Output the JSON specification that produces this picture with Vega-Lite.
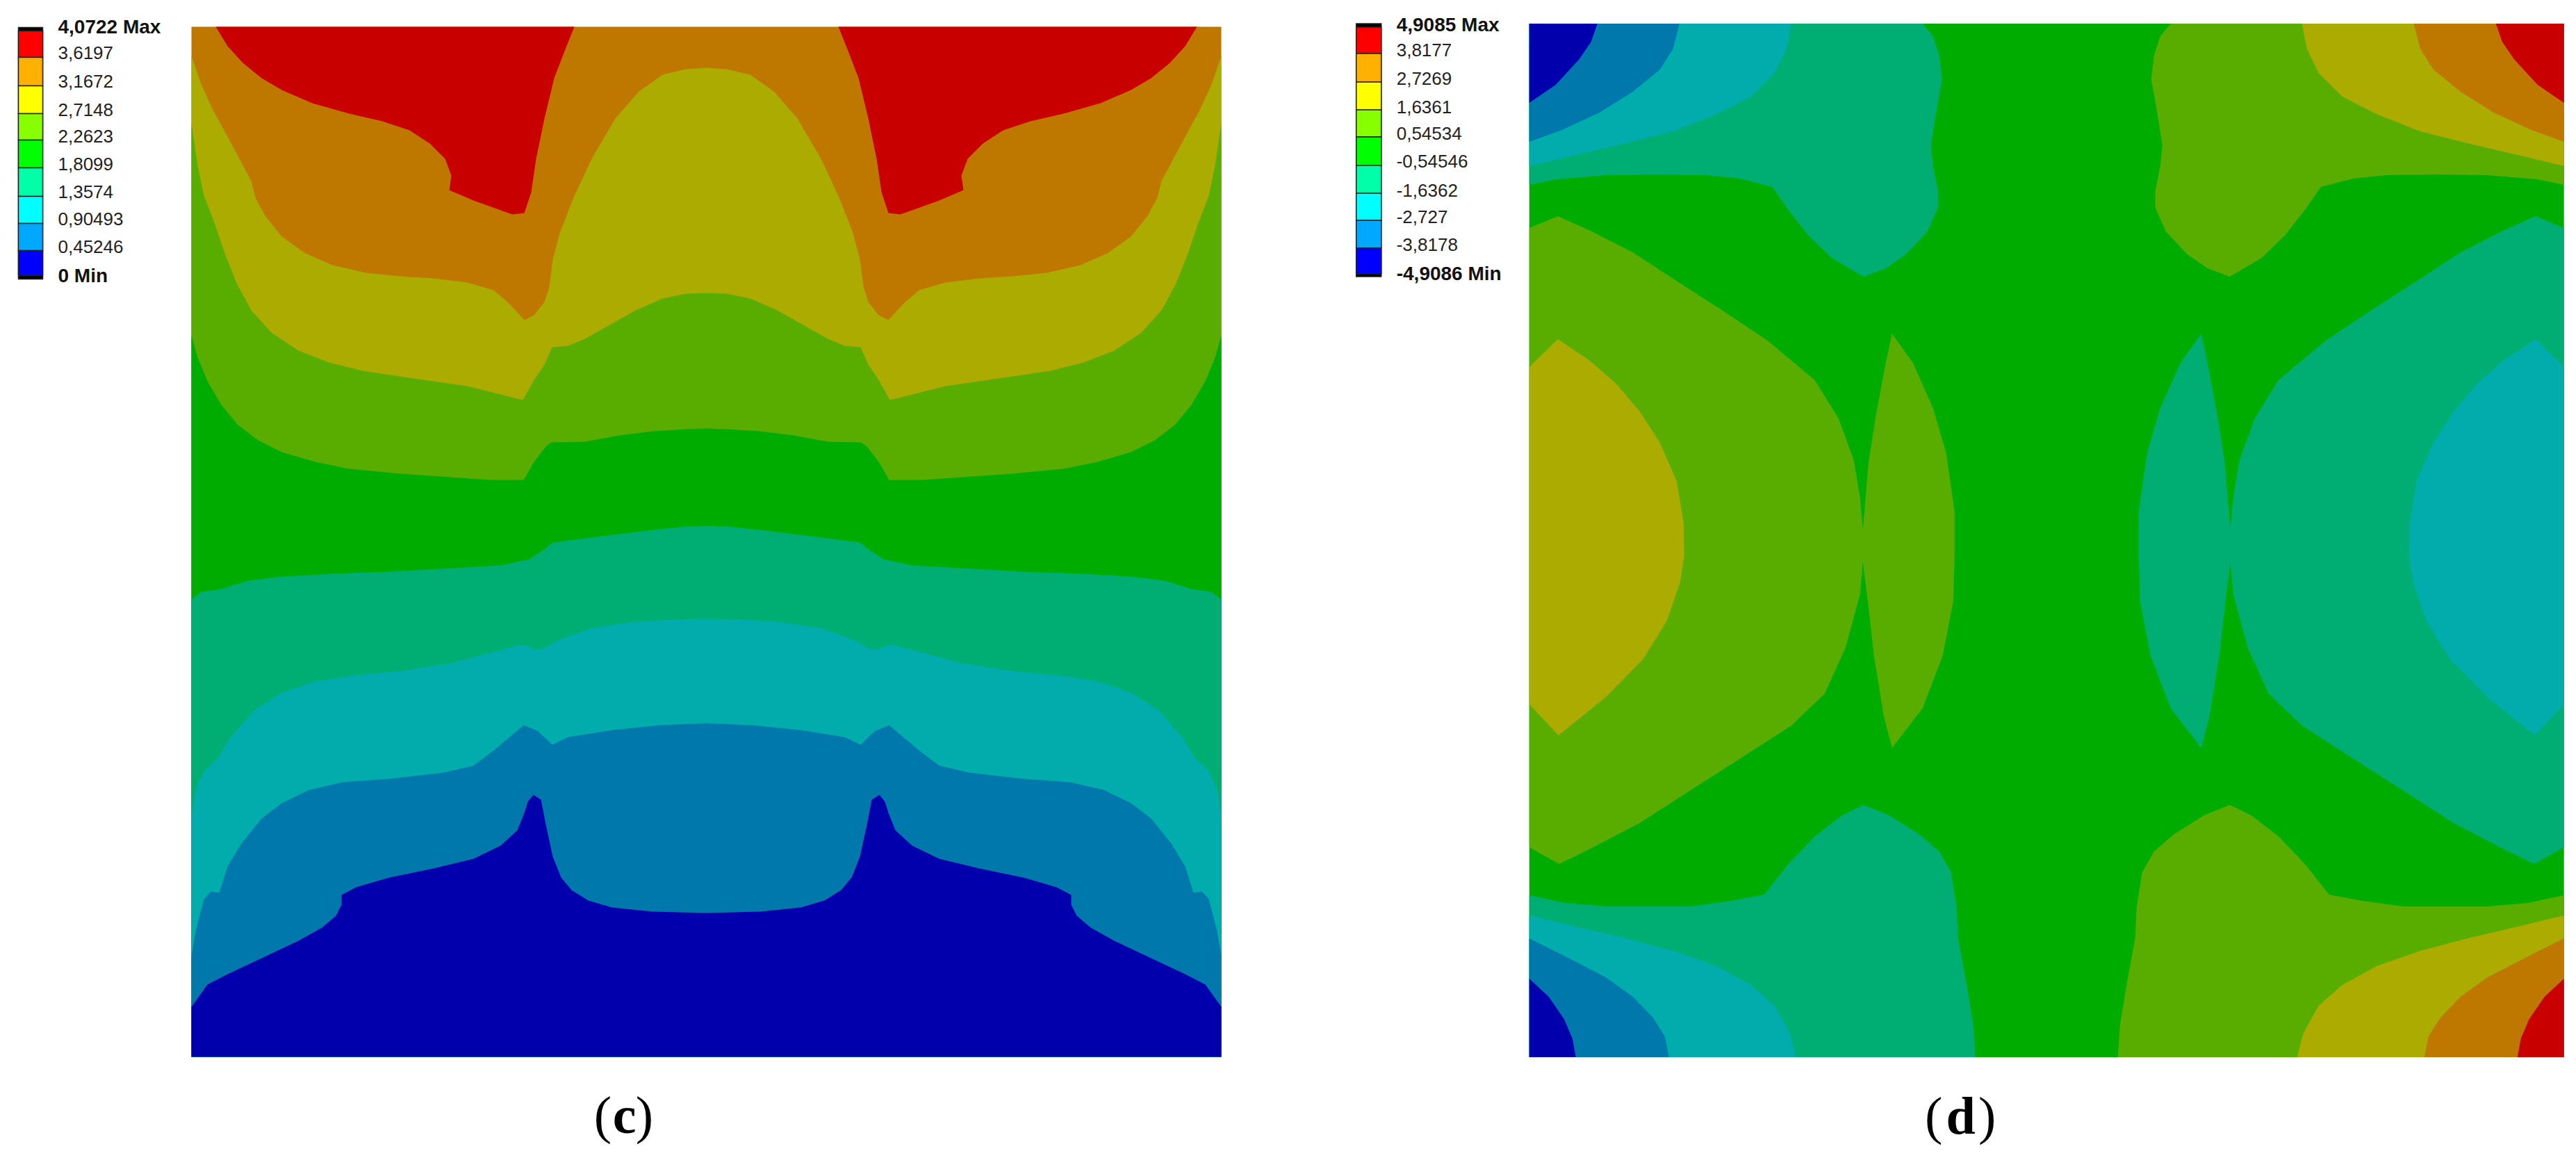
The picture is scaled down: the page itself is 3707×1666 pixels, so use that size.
{"$schema":"https://vega.github.io/schema/vega-lite/v6.json","padding":0,"spacing":0,"background":"white","config":{"view":{"stroke":null},"font":"Liberation Sans"},
"datasets":{
"c":[
{"s":"Bg","x":0,"y":0},{"s":"Bg","x":1482,"y":0},{"s":"Bg","x":1482,"y":1482},{"s":"Bg","x":0,"y":1482},
{"s":"R1","x":35,"y":0},{"s":"R1","x":52,"y":28},{"s":"R1","x":74,"y":52},{"s":"R1","x":101,"y":74},{"s":"R1","x":130,"y":91},{"s":"R1","x":174,"y":110},{"s":"R1","x":227,"y":125},{"s":"R1","x":275,"y":136},{"s":"R1","x":314,"y":149},{"s":"R1","x":343,"y":168},{"s":"R1","x":365,"y":190},{"s":"R1","x":374,"y":214},{"s":"R1","x":371,"y":235},{"s":"R1","x":406,"y":250},{"s":"R1","x":445,"y":264},{"s":"R1","x":462,"y":270},{"s":"R1","x":479,"y":268},{"s":"R1","x":489,"y":238},{"s":"R1","x":496,"y":190},{"s":"R1","x":508,"y":132},{"s":"R1","x":522,"y":74},{"s":"R1","x":537,"y":35},{"s":"R1","x":551,"y":0},
{"s":"R2","x":1447,"y":0},{"s":"R2","x":1430,"y":28},{"s":"R2","x":1408,"y":52},{"s":"R2","x":1381,"y":74},{"s":"R2","x":1352,"y":91},{"s":"R2","x":1308,"y":110},{"s":"R2","x":1255,"y":125},{"s":"R2","x":1207,"y":136},{"s":"R2","x":1168,"y":149},{"s":"R2","x":1139,"y":168},{"s":"R2","x":1117,"y":190},{"s":"R2","x":1108,"y":214},{"s":"R2","x":1111,"y":235},{"s":"R2","x":1076,"y":250},{"s":"R2","x":1037,"y":264},{"s":"R2","x":1020,"y":270},{"s":"R2","x":1003,"y":268},{"s":"R2","x":993,"y":238},{"s":"R2","x":986,"y":190},{"s":"R2","x":974,"y":132},{"s":"R2","x":960,"y":74},{"s":"R2","x":945,"y":35},{"s":"R2","x":931,"y":0},
{"s":"A","x":0,"y":42},{"s":"A","x":14,"y":83},{"s":"A","x":31,"y":120},{"s":"A","x":48,"y":151},{"s":"A","x":69,"y":190},{"s":"A","x":86,"y":222},{"s":"A","x":92,"y":246},{"s":"A","x":106,"y":272},{"s":"A","x":130,"y":302},{"s":"A","x":164,"y":326},{"s":"A","x":203,"y":343},{"s":"A","x":251,"y":354},{"s":"A","x":300,"y":359},{"s":"A","x":348,"y":362},{"s":"A","x":397,"y":368},{"s":"A","x":435,"y":379},{"s":"A","x":457,"y":398},{"s":"A","x":479,"y":422},{"s":"A","x":493,"y":415},{"s":"A","x":508,"y":396},{"s":"A","x":515,"y":374},{"s":"A","x":520,"y":335},{"s":"A","x":530,"y":297},{"s":"A","x":549,"y":248},{"s":"A","x":576,"y":190},{"s":"A","x":610,"y":132},{"s":"A","x":644,"y":93},{"s":"A","x":678,"y":69},{"s":"A","x":712,"y":61},{"s":"A","x":741,"y":59},{"s":"A","x":770,"y":61},{"s":"A","x":804,"y":69},{"s":"A","x":838,"y":93},{"s":"A","x":872,"y":132},{"s":"A","x":906,"y":190},{"s":"A","x":933,"y":248},{"s":"A","x":952,"y":297},{"s":"A","x":962,"y":335},{"s":"A","x":967,"y":374},{"s":"A","x":974,"y":396},{"s":"A","x":989,"y":415},{"s":"A","x":1003,"y":422},{"s":"A","x":1025,"y":398},{"s":"A","x":1047,"y":379},{"s":"A","x":1085,"y":368},{"s":"A","x":1134,"y":362},{"s":"A","x":1182,"y":359},{"s":"A","x":1231,"y":354},{"s":"A","x":1279,"y":343},{"s":"A","x":1318,"y":326},{"s":"A","x":1352,"y":302},{"s":"A","x":1376,"y":272},{"s":"A","x":1390,"y":246},{"s":"A","x":1396,"y":222},{"s":"A","x":1413,"y":190},{"s":"A","x":1434,"y":151},{"s":"A","x":1451,"y":120},{"s":"A","x":1468,"y":83},{"s":"A","x":1482,"y":42},{"s":"A","x":1482,"y":1482},{"s":"A","x":0,"y":1482},
{"s":"B","x":0,"y":139},{"s":"B","x":9,"y":200},{"s":"B","x":18,"y":243},{"s":"B","x":33,"y":282},{"s":"B","x":48,"y":326},{"s":"B","x":65,"y":369},{"s":"B","x":86,"y":408},{"s":"B","x":115,"y":440},{"s":"B","x":154,"y":466},{"s":"B","x":198,"y":483},{"s":"B","x":246,"y":495},{"s":"B","x":300,"y":503},{"s":"B","x":348,"y":510},{"s":"B","x":397,"y":517},{"s":"B","x":445,"y":529},{"s":"B","x":477,"y":537},{"s":"B","x":493,"y":508},{"s":"B","x":508,"y":486},{"s":"B","x":519,"y":461},{"s":"B","x":542,"y":459},{"s":"B","x":566,"y":449},{"s":"B","x":600,"y":430},{"s":"B","x":639,"y":408},{"s":"B","x":678,"y":391},{"s":"B","x":712,"y":384},{"s":"B","x":741,"y":383},{"s":"B","x":770,"y":384},{"s":"B","x":804,"y":391},{"s":"B","x":843,"y":408},{"s":"B","x":882,"y":430},{"s":"B","x":916,"y":449},{"s":"B","x":940,"y":459},{"s":"B","x":963,"y":461},{"s":"B","x":974,"y":486},{"s":"B","x":989,"y":508},{"s":"B","x":1005,"y":537},{"s":"B","x":1037,"y":529},{"s":"B","x":1085,"y":517},{"s":"B","x":1134,"y":510},{"s":"B","x":1182,"y":503},{"s":"B","x":1236,"y":495},{"s":"B","x":1284,"y":483},{"s":"B","x":1328,"y":466},{"s":"B","x":1367,"y":440},{"s":"B","x":1396,"y":408},{"s":"B","x":1417,"y":369},{"s":"B","x":1434,"y":326},{"s":"B","x":1449,"y":282},{"s":"B","x":1464,"y":243},{"s":"B","x":1473,"y":200},{"s":"B","x":1482,"y":139},{"s":"B","x":1482,"y":1482},{"s":"B","x":0,"y":1482},
{"s":"C","x":0,"y":445},{"s":"C","x":9,"y":476},{"s":"C","x":23,"y":510},{"s":"C","x":43,"y":544},{"s":"C","x":67,"y":573},{"s":"C","x":96,"y":595},{"s":"C","x":130,"y":612},{"s":"C","x":178,"y":626},{"s":"C","x":227,"y":636},{"s":"C","x":300,"y":643},{"s":"C","x":372,"y":648},{"s":"C","x":430,"y":652},{"s":"C","x":478,"y":652},{"s":"C","x":493,"y":626},{"s":"C","x":510,"y":604},{"s":"C","x":518,"y":598},{"s":"C","x":566,"y":597},{"s":"C","x":615,"y":588},{"s":"C","x":663,"y":582},{"s":"C","x":712,"y":579},{"s":"C","x":741,"y":578},{"s":"C","x":770,"y":579},{"s":"C","x":819,"y":582},{"s":"C","x":867,"y":588},{"s":"C","x":916,"y":597},{"s":"C","x":964,"y":598},{"s":"C","x":972,"y":604},{"s":"C","x":989,"y":626},{"s":"C","x":1004,"y":652},{"s":"C","x":1052,"y":652},{"s":"C","x":1110,"y":648},{"s":"C","x":1182,"y":643},{"s":"C","x":1255,"y":636},{"s":"C","x":1304,"y":626},{"s":"C","x":1352,"y":612},{"s":"C","x":1386,"y":595},{"s":"C","x":1415,"y":573},{"s":"C","x":1439,"y":544},{"s":"C","x":1459,"y":510},{"s":"C","x":1473,"y":476},{"s":"C","x":1482,"y":445},{"s":"C","x":1482,"y":1482},{"s":"C","x":0,"y":1482},
{"s":"D","x":0,"y":824},{"s":"D","x":14,"y":813},{"s":"D","x":43,"y":809},{"s":"D","x":81,"y":797},{"s":"D","x":130,"y":791},{"s":"D","x":203,"y":787},{"s":"D","x":285,"y":784},{"s":"D","x":372,"y":779},{"s":"D","x":445,"y":775},{"s":"D","x":486,"y":766},{"s":"D","x":506,"y":753},{"s":"D","x":520,"y":742},{"s":"D","x":590,"y":733},{"s":"D","x":663,"y":724},{"s":"D","x":712,"y":719},{"s":"D","x":741,"y":718},{"s":"D","x":770,"y":719},{"s":"D","x":819,"y":724},{"s":"D","x":892,"y":733},{"s":"D","x":962,"y":742},{"s":"D","x":976,"y":753},{"s":"D","x":996,"y":766},{"s":"D","x":1037,"y":775},{"s":"D","x":1110,"y":779},{"s":"D","x":1197,"y":784},{"s":"D","x":1279,"y":787},{"s":"D","x":1352,"y":791},{"s":"D","x":1401,"y":797},{"s":"D","x":1439,"y":809},{"s":"D","x":1468,"y":813},{"s":"D","x":1482,"y":824},{"s":"D","x":1482,"y":1482},{"s":"D","x":0,"y":1482},
{"s":"E","x":0,"y":1137},{"s":"E","x":6,"y":1098},{"s":"E","x":18,"y":1071},{"s":"E","x":38,"y":1052},{"s":"E","x":57,"y":1021},{"s":"E","x":91,"y":983},{"s":"E","x":130,"y":958},{"s":"E","x":178,"y":942},{"s":"E","x":227,"y":934},{"s":"E","x":300,"y":927},{"s":"E","x":372,"y":916},{"s":"E","x":421,"y":903},{"s":"E","x":474,"y":889},{"s":"E","x":484,"y":891},{"s":"E","x":493,"y":896},{"s":"E","x":506,"y":895},{"s":"E","x":527,"y":883},{"s":"E","x":576,"y":865},{"s":"E","x":639,"y":856},{"s":"E","x":687,"y":853},{"s":"E","x":741,"y":852},{"s":"E","x":795,"y":853},{"s":"E","x":843,"y":856},{"s":"E","x":906,"y":865},{"s":"E","x":955,"y":883},{"s":"E","x":976,"y":895},{"s":"E","x":989,"y":896},{"s":"E","x":998,"y":891},{"s":"E","x":1008,"y":889},{"s":"E","x":1061,"y":903},{"s":"E","x":1110,"y":916},{"s":"E","x":1182,"y":927},{"s":"E","x":1255,"y":934},{"s":"E","x":1304,"y":942},{"s":"E","x":1352,"y":958},{"s":"E","x":1391,"y":983},{"s":"E","x":1425,"y":1021},{"s":"E","x":1444,"y":1052},{"s":"E","x":1464,"y":1071},{"s":"E","x":1476,"y":1098},{"s":"E","x":1482,"y":1137},{"s":"E","x":1482,"y":1482},{"s":"E","x":0,"y":1482},
{"s":"F","x":0,"y":1337},{"s":"F","x":6,"y":1301},{"s":"F","x":18,"y":1255},{"s":"F","x":28,"y":1244},{"s":"F","x":40,"y":1246},{"s":"F","x":52,"y":1208},{"s":"F","x":72,"y":1175},{"s":"F","x":101,"y":1139},{"s":"F","x":130,"y":1117},{"s":"F","x":169,"y":1098},{"s":"F","x":217,"y":1087},{"s":"F","x":285,"y":1082},{"s":"F","x":363,"y":1073},{"s":"F","x":406,"y":1063},{"s":"F","x":435,"y":1041},{"s":"F","x":478,"y":1005},{"s":"F","x":498,"y":1013},{"s":"F","x":510,"y":1024},{"s":"F","x":519,"y":1033},{"s":"F","x":542,"y":1022},{"s":"F","x":605,"y":1012},{"s":"F","x":673,"y":1005},{"s":"F","x":741,"y":1002},{"s":"F","x":809,"y":1005},{"s":"F","x":877,"y":1012},{"s":"F","x":940,"y":1022},{"s":"F","x":963,"y":1033},{"s":"F","x":972,"y":1024},{"s":"F","x":984,"y":1013},{"s":"F","x":1004,"y":1005},{"s":"F","x":1047,"y":1041},{"s":"F","x":1076,"y":1063},{"s":"F","x":1119,"y":1073},{"s":"F","x":1197,"y":1082},{"s":"F","x":1265,"y":1087},{"s":"F","x":1313,"y":1098},{"s":"F","x":1352,"y":1117},{"s":"F","x":1381,"y":1139},{"s":"F","x":1410,"y":1175},{"s":"F","x":1430,"y":1208},{"s":"F","x":1442,"y":1246},{"s":"F","x":1454,"y":1244},{"s":"F","x":1464,"y":1255},{"s":"F","x":1476,"y":1301},{"s":"F","x":1482,"y":1337},{"s":"F","x":1482,"y":1482},{"s":"F","x":0,"y":1482},
{"s":"G","x":0,"y":1410},{"s":"G","x":23,"y":1378},{"s":"G","x":52,"y":1363},{"s":"G","x":101,"y":1340},{"s":"G","x":154,"y":1315},{"s":"G","x":188,"y":1296},{"s":"G","x":208,"y":1279},{"s":"G","x":216,"y":1263},{"s":"G","x":216,"y":1249},{"s":"G","x":237,"y":1238},{"s":"G","x":285,"y":1224},{"s":"G","x":348,"y":1211},{"s":"G","x":406,"y":1197},{"s":"G","x":445,"y":1178},{"s":"G","x":469,"y":1156},{"s":"G","x":479,"y":1131},{"s":"G","x":484,"y":1115},{"s":"G","x":492,"y":1105},{"s":"G","x":503,"y":1112},{"s":"G","x":510,"y":1148},{"s":"G","x":520,"y":1194},{"s":"G","x":532,"y":1224},{"s":"G","x":547,"y":1242},{"s":"G","x":571,"y":1257},{"s":"G","x":605,"y":1267},{"s":"G","x":663,"y":1273},{"s":"G","x":741,"y":1275},{"s":"G","x":819,"y":1273},{"s":"G","x":877,"y":1267},{"s":"G","x":911,"y":1257},{"s":"G","x":935,"y":1242},{"s":"G","x":950,"y":1224},{"s":"G","x":962,"y":1194},{"s":"G","x":972,"y":1148},{"s":"G","x":979,"y":1112},{"s":"G","x":990,"y":1105},{"s":"G","x":998,"y":1115},{"s":"G","x":1003,"y":1131},{"s":"G","x":1013,"y":1156},{"s":"G","x":1037,"y":1178},{"s":"G","x":1076,"y":1197},{"s":"G","x":1134,"y":1211},{"s":"G","x":1197,"y":1224},{"s":"G","x":1245,"y":1238},{"s":"G","x":1266,"y":1249},{"s":"G","x":1266,"y":1263},{"s":"G","x":1274,"y":1279},{"s":"G","x":1294,"y":1296},{"s":"G","x":1328,"y":1315},{"s":"G","x":1381,"y":1340},{"s":"G","x":1430,"y":1363},{"s":"G","x":1459,"y":1378},{"s":"G","x":1482,"y":1410},{"s":"G","x":1482,"y":1482},{"s":"G","x":0,"y":1482}
],
"d":[
{"s":"Bg","x":0,"y":0},{"s":"Bg","x":1489,"y":0},{"s":"Bg","x":1489,"y":1487},{"s":"Bg","x":0,"y":1487},
{"s":"G1","x":0,"y":232},{"s":"G1","x":38,"y":224},{"s":"G1","x":110,"y":218},{"s":"G1","x":183,"y":217},{"s":"G1","x":256,"y":218},{"s":"G1","x":304,"y":223},{"s":"G1","x":350,"y":235},{"s":"G1","x":372,"y":267},{"s":"G1","x":401,"y":304},{"s":"G1","x":435,"y":337},{"s":"G1","x":481,"y":364},{"s":"G1","x":513,"y":352},{"s":"G1","x":542,"y":332},{"s":"G1","x":573,"y":299},{"s":"G1","x":588,"y":265},{"s":"G1","x":588,"y":240},{"s":"G1","x":581,"y":205},{"s":"G1","x":578,"y":175},{"s":"G1","x":585,"y":130},{"s":"G1","x":594,"y":80},{"s":"G1","x":590,"y":46},{"s":"G1","x":581,"y":18},{"s":"G1","x":566,"y":0},{"s":"G1","x":0,"y":0},
{"s":"T1","x":0,"y":205},{"s":"T1","x":62,"y":190},{"s":"T1","x":135,"y":173},{"s":"T1","x":207,"y":155},{"s":"T1","x":270,"y":130},{"s":"T1","x":319,"y":105},{"s":"T1","x":353,"y":71},{"s":"T1","x":370,"y":36},{"s":"T1","x":377,"y":0},{"s":"T1","x":0,"y":0},
{"s":"B1","x":0,"y":170},{"s":"B1","x":47,"y":153},{"s":"B1","x":101,"y":128},{"s":"B1","x":149,"y":98},{"s":"B1","x":188,"y":66},{"s":"B1","x":207,"y":36},{"s":"B1","x":216,"y":0},{"s":"B1","x":0,"y":0},
{"s":"N1","x":0,"y":114},{"s":"N1","x":38,"y":88},{"s":"N1","x":72,"y":51},{"s":"N1","x":89,"y":26},{"s":"N1","x":98,"y":0},{"s":"N1","x":0,"y":0},
{"s":"L1","x":0,"y":294},{"s":"L1","x":41,"y":277},{"s":"L1","x":86,"y":297},{"s":"L1","x":149,"y":329},{"s":"L1","x":207,"y":367},{"s":"L1","x":280,"y":414},{"s":"L1","x":343,"y":456},{"s":"L1","x":411,"y":513},{"s":"L1","x":445,"y":568},{"s":"L1","x":467,"y":628},{"s":"L1","x":476,"y":682},{"s":"L1","x":480,"y":727},{"s":"L1","x":484,"y":682},{"s":"L1","x":488,"y":633},{"s":"L1","x":498,"y":568},{"s":"L1","x":513,"y":488},{"s":"L1","x":522,"y":446},{"s":"L1","x":552,"y":488},{"s":"L1","x":581,"y":553},{"s":"L1","x":600,"y":618},{"s":"L1","x":612,"y":702},{"s":"L1","x":612,"y":766},{"s":"L1","x":610,"y":832},{"s":"L1","x":595,"y":909},{"s":"L1","x":566,"y":985},{"s":"L1","x":522,"y":1042},{"s":"L1","x":510,"y":996},{"s":"L1","x":496,"y":909},{"s":"L1","x":486,"y":821},{"s":"L1","x":480,"y":774},{"s":"L1","x":476,"y":821},{"s":"L1","x":455,"y":898},{"s":"L1","x":425,"y":964},{"s":"L1","x":377,"y":1010},{"s":"L1","x":304,"y":1057},{"s":"L1","x":232,"y":1103},{"s":"L1","x":159,"y":1150},{"s":"L1","x":86,"y":1188},{"s":"L1","x":43,"y":1209},{"s":"L1","x":0,"y":1185},
{"s":"O1","x":0,"y":494},{"s":"O1","x":41,"y":454},{"s":"O1","x":86,"y":484},{"s":"O1","x":125,"y":518},{"s":"O1","x":159,"y":558},{"s":"O1","x":188,"y":603},{"s":"O1","x":212,"y":658},{"s":"O1","x":222,"y":717},{"s":"O1","x":223,"y":766},{"s":"O1","x":217,"y":804},{"s":"O1","x":198,"y":859},{"s":"O1","x":164,"y":914},{"s":"O1","x":110,"y":969},{"s":"O1","x":42,"y":1024},{"s":"O1","x":0,"y":979},
{"s":"G2","x":0,"y":1254},{"s":"G2","x":52,"y":1265},{"s":"G2","x":110,"y":1270},{"s":"G2","x":232,"y":1270},{"s":"G2","x":290,"y":1262},{"s":"G2","x":338,"y":1253},{"s":"G2","x":372,"y":1210},{"s":"G2","x":411,"y":1169},{"s":"G2","x":450,"y":1139},{"s":"G2","x":481,"y":1124},{"s":"G2","x":518,"y":1139},{"s":"G2","x":561,"y":1166},{"s":"G2","x":590,"y":1191},{"s":"G2","x":607,"y":1221},{"s":"G2","x":615,"y":1271},{"s":"G2","x":617,"y":1315},{"s":"G2","x":629,"y":1380},{"s":"G2","x":639,"y":1441},{"s":"G2","x":642,"y":1487},{"s":"G2","x":0,"y":1487},
{"s":"T2","x":0,"y":1283},{"s":"T2","x":62,"y":1298},{"s":"T2","x":135,"y":1315},{"s":"T2","x":207,"y":1334},{"s":"T2","x":270,"y":1356},{"s":"T2","x":319,"y":1383},{"s":"T2","x":353,"y":1413},{"s":"T2","x":375,"y":1452},{"s":"T2","x":384,"y":1487},{"s":"T2","x":0,"y":1487},
{"s":"B2","x":0,"y":1316},{"s":"B2","x":52,"y":1342},{"s":"B2","x":110,"y":1372},{"s":"B2","x":149,"y":1400},{"s":"B2","x":178,"y":1430},{"s":"B2","x":195,"y":1457},{"s":"B2","x":201,"y":1487},{"s":"B2","x":0,"y":1487},
{"s":"N2","x":0,"y":1374},{"s":"N2","x":28,"y":1400},{"s":"N2","x":50,"y":1432},{"s":"N2","x":62,"y":1460},{"s":"N2","x":67,"y":1487},{"s":"N2","x":0,"y":1487},
{"s":"g1","x":1489,"y":232},{"s":"g1","x":1451,"y":224},{"s":"g1","x":1379,"y":218},{"s":"g1","x":1306,"y":217},{"s":"g1","x":1233,"y":218},{"s":"g1","x":1185,"y":223},{"s":"g1","x":1139,"y":235},{"s":"g1","x":1117,"y":267},{"s":"g1","x":1088,"y":304},{"s":"g1","x":1054,"y":337},{"s":"g1","x":1008,"y":364},{"s":"g1","x":976,"y":352},{"s":"g1","x":947,"y":332},{"s":"g1","x":916,"y":299},{"s":"g1","x":901,"y":265},{"s":"g1","x":901,"y":240},{"s":"g1","x":908,"y":205},{"s":"g1","x":911,"y":175},{"s":"g1","x":904,"y":130},{"s":"g1","x":895,"y":80},{"s":"g1","x":899,"y":46},{"s":"g1","x":908,"y":18},{"s":"g1","x":923,"y":0},{"s":"g1","x":1489,"y":0},
{"s":"t1","x":1489,"y":205},{"s":"t1","x":1427,"y":190},{"s":"t1","x":1354,"y":173},{"s":"t1","x":1282,"y":155},{"s":"t1","x":1219,"y":130},{"s":"t1","x":1170,"y":105},{"s":"t1","x":1136,"y":71},{"s":"t1","x":1119,"y":36},{"s":"t1","x":1112,"y":0},{"s":"t1","x":1489,"y":0},
{"s":"b1","x":1489,"y":170},{"s":"b1","x":1442,"y":153},{"s":"b1","x":1388,"y":128},{"s":"b1","x":1340,"y":98},{"s":"b1","x":1301,"y":66},{"s":"b1","x":1282,"y":36},{"s":"b1","x":1273,"y":0},{"s":"b1","x":1489,"y":0},
{"s":"n1","x":1489,"y":114},{"s":"n1","x":1451,"y":88},{"s":"n1","x":1417,"y":51},{"s":"n1","x":1400,"y":26},{"s":"n1","x":1391,"y":0},{"s":"n1","x":1489,"y":0},
{"s":"l1","x":1489,"y":294},{"s":"l1","x":1448,"y":277},{"s":"l1","x":1403,"y":297},{"s":"l1","x":1340,"y":329},{"s":"l1","x":1282,"y":367},{"s":"l1","x":1209,"y":414},{"s":"l1","x":1146,"y":456},{"s":"l1","x":1078,"y":513},{"s":"l1","x":1044,"y":568},{"s":"l1","x":1022,"y":628},{"s":"l1","x":1013,"y":682},{"s":"l1","x":1009,"y":727},{"s":"l1","x":1005,"y":682},{"s":"l1","x":1001,"y":633},{"s":"l1","x":991,"y":568},{"s":"l1","x":976,"y":488},{"s":"l1","x":967,"y":446},{"s":"l1","x":937,"y":488},{"s":"l1","x":908,"y":553},{"s":"l1","x":889,"y":618},{"s":"l1","x":877,"y":702},{"s":"l1","x":877,"y":766},{"s":"l1","x":879,"y":832},{"s":"l1","x":894,"y":909},{"s":"l1","x":923,"y":985},{"s":"l1","x":967,"y":1042},{"s":"l1","x":979,"y":996},{"s":"l1","x":993,"y":909},{"s":"l1","x":1003,"y":821},{"s":"l1","x":1009,"y":774},{"s":"l1","x":1013,"y":821},{"s":"l1","x":1034,"y":898},{"s":"l1","x":1064,"y":964},{"s":"l1","x":1112,"y":1010},{"s":"l1","x":1185,"y":1057},{"s":"l1","x":1257,"y":1103},{"s":"l1","x":1330,"y":1150},{"s":"l1","x":1403,"y":1188},{"s":"l1","x":1446,"y":1209},{"s":"l1","x":1489,"y":1185},
{"s":"o1","x":1489,"y":494},{"s":"o1","x":1448,"y":454},{"s":"o1","x":1403,"y":484},{"s":"o1","x":1364,"y":518},{"s":"o1","x":1330,"y":558},{"s":"o1","x":1301,"y":603},{"s":"o1","x":1277,"y":658},{"s":"o1","x":1267,"y":717},{"s":"o1","x":1266,"y":766},{"s":"o1","x":1272,"y":804},{"s":"o1","x":1291,"y":859},{"s":"o1","x":1325,"y":914},{"s":"o1","x":1379,"y":969},{"s":"o1","x":1447,"y":1024},{"s":"o1","x":1489,"y":979},
{"s":"g2","x":1489,"y":1254},{"s":"g2","x":1437,"y":1265},{"s":"g2","x":1379,"y":1270},{"s":"g2","x":1257,"y":1270},{"s":"g2","x":1199,"y":1262},{"s":"g2","x":1151,"y":1253},{"s":"g2","x":1117,"y":1210},{"s":"g2","x":1078,"y":1169},{"s":"g2","x":1039,"y":1139},{"s":"g2","x":1008,"y":1124},{"s":"g2","x":971,"y":1139},{"s":"g2","x":928,"y":1166},{"s":"g2","x":899,"y":1191},{"s":"g2","x":882,"y":1221},{"s":"g2","x":874,"y":1271},{"s":"g2","x":872,"y":1315},{"s":"g2","x":860,"y":1380},{"s":"g2","x":850,"y":1441},{"s":"g2","x":847,"y":1487},{"s":"g2","x":1489,"y":1487},
{"s":"t2","x":1489,"y":1283},{"s":"t2","x":1427,"y":1298},{"s":"t2","x":1354,"y":1315},{"s":"t2","x":1282,"y":1334},{"s":"t2","x":1219,"y":1356},{"s":"t2","x":1170,"y":1383},{"s":"t2","x":1136,"y":1413},{"s":"t2","x":1114,"y":1452},{"s":"t2","x":1105,"y":1487},{"s":"t2","x":1489,"y":1487},
{"s":"b2","x":1489,"y":1316},{"s":"b2","x":1437,"y":1342},{"s":"b2","x":1379,"y":1372},{"s":"b2","x":1340,"y":1400},{"s":"b2","x":1311,"y":1430},{"s":"b2","x":1294,"y":1457},{"s":"b2","x":1288,"y":1487},{"s":"b2","x":1489,"y":1487},
{"s":"n2","x":1489,"y":1374},{"s":"n2","x":1461,"y":1400},{"s":"n2","x":1439,"y":1432},{"s":"n2","x":1427,"y":1460},{"s":"n2","x":1422,"y":1487},{"s":"n2","x":1489,"y":1487}
],
"barsC":[{"n":"cap","x":-249,"x2":-214,"y":1,"y2":363},{"n":"c1","x":-249,"x2":-214,"y":6,"y2":44},{"n":"c2","x":-249,"x2":-214,"y":44,"y2":85},{"n":"c3","x":-249,"x2":-214,"y":85,"y2":125},{"n":"c4","x":-249,"x2":-214,"y":125,"y2":163},{"n":"c5","x":-249,"x2":-214,"y":163,"y2":203},{"n":"c6","x":-249,"x2":-214,"y":203,"y2":244},{"n":"c7","x":-249,"x2":-214,"y":244,"y2":283},{"n":"c8","x":-249,"x2":-214,"y":283,"y2":322},{"n":"c9","x":-249,"x2":-214,"y":322,"y2":358}],
"labelsC":[{"t":"4,0722 Max","b":1,"x":-192,"y":2},{"t":"3,6197","b":0,"x":-192,"y":39},{"t":"3,1672","b":0,"x":-192,"y":80},{"t":"2,7148","b":0,"x":-192,"y":121},{"t":"2,2623","b":0,"x":-192,"y":159},{"t":"1,8099","b":0,"x":-192,"y":199},{"t":"1,3574","b":0,"x":-192,"y":239},{"t":"0,90493","b":0,"x":-192,"y":278},{"t":"0,45246","b":0,"x":-192,"y":318},{"t":"0 Min","b":1,"x":-192,"y":360}],
"barsD":[{"n":"cap","x":-249,"x2":-213,"y":0,"y2":364},{"n":"c1","x":-249,"x2":-213,"y":5,"y2":43},{"n":"c2","x":-249,"x2":-213,"y":43,"y2":84},{"n":"c3","x":-249,"x2":-213,"y":84,"y2":124},{"n":"c4","x":-249,"x2":-213,"y":124,"y2":163},{"n":"c5","x":-249,"x2":-213,"y":163,"y2":204},{"n":"c6","x":-249,"x2":-213,"y":204,"y2":244},{"n":"c7","x":-249,"x2":-213,"y":244,"y2":283},{"n":"c8","x":-249,"x2":-213,"y":283,"y2":323},{"n":"c9","x":-249,"x2":-213,"y":323,"y2":360}],
"labelsD":[{"t":"4,9085 Max","b":1,"x":-191,"y":3},{"t":"3,8177","b":0,"x":-191,"y":39},{"t":"2,7269","b":0,"x":-191,"y":80},{"t":"1,6361","b":0,"x":-191,"y":121},{"t":"0,54534","b":0,"x":-191,"y":159},{"t":"-0,54546","b":0,"x":-191,"y":199},{"t":"-1,6362","b":0,"x":-191,"y":241},{"t":"-2,727","b":0,"x":-191,"y":279},{"t":"-3,8178","b":0,"x":-191,"y":319},{"t":"-4,9086 Min","b":1,"x":-191,"y":361}],
"capC":[{"t":"(","b":0,"x":592,"y":1592},{"t":"c","b":1,"x":623,"y":1592},{"t":")","b":0,"x":652,"y":1592}],
"capD":[{"t":"(","b":0,"x":582,"y":1597},{"t":"d","b":1,"x":621,"y":1597},{"t":")","b":0,"x":659,"y":1597}]
},
"hconcat":[
{"width":1853,"height":1666,
"layer":[
{"data":{"name":"c"},"transform":[{"window":[{"op":"row_number","as":"i"}]}],"mark":{"type":"line","filled":true,"clip":false},"encoding":{
"x":{"field":"x","type":"quantitative","axis":null,"scale":{"domain":[-275.5,1577.5],"nice":false,"zero":false}},
"y":{"field":"y","type":"quantitative","axis":null,"scale":{"domain":[-38.4,1627.6],"nice":false,"zero":false,"reverse":true}},
"order":{"field":"i","type":"quantitative"},
"color":{"field":"s","type":"nominal","legend":null,"scale":{"domain":["Bg","R1","R2","A","B","C","D","E","F","G"],"range":["#BE7800","#C80000","#C80000","#ACAC00","#59AC00","#00AC00","#00AE74","#00ACAC","#0078AC","#0000AC"]}}}},
{"data":{"name":"barsC"},"mark":{"type":"rect","stroke":"#222222","strokeWidth":1.5},"encoding":{"x":{"field":"x","type":"quantitative"},"x2":{"field":"x2"},"y":{"field":"y","type":"quantitative"},"y2":{"field":"y2"},
"fill":{"field":"n","type":"nominal","legend":null,"scale":{"domain":["cap","c1","c2","c3","c4","c5","c6","c7","c8","c9"],"range":["#000000","#FF0000","#FFB000","#FFFF00","#88FF00","#00FF00","#00FFA8","#00FFFF","#00A8FF","#0000FF"]}}}},
{"data":{"name":"labelsC"},"transform":[{"filter":"datum.b==0"}],"mark":{"type":"text","align":"left","baseline":"middle","fontSize":26,"font":"Liberation Sans","color":"#222222"},"encoding":{"x":{"field":"x","type":"quantitative"},"y":{"field":"y","type":"quantitative"},"text":{"field":"t"}}},
{"data":{"name":"labelsC"},"transform":[{"filter":"datum.b==1"}],"mark":{"type":"text","align":"left","baseline":"middle","fontSize":28,"font":"Liberation Sans","fontWeight":"bold","color":"#111111"},"encoding":{"x":{"field":"x","type":"quantitative"},"y":{"field":"y","type":"quantitative"},"text":{"field":"t"}}},
{"data":{"name":"capC"},"transform":[{"filter":"datum.b==0"}],"mark":{"type":"text","align":"center","baseline":"alphabetic","fontSize":76,"font":"Liberation Serif","color":"#000000"},"encoding":{"x":{"field":"x","type":"quantitative"},"y":{"field":"y","type":"quantitative"},"text":{"field":"t"}}},
{"data":{"name":"capC"},"transform":[{"filter":"datum.b==1"}],"mark":{"type":"text","align":"center","baseline":"alphabetic","fontSize":76,"font":"Liberation Serif","fontWeight":"bold","color":"#000000"},"encoding":{"x":{"field":"x","type":"quantitative"},"y":{"field":"y","type":"quantitative"},"text":{"field":"t"}}}
]},
{"width":1854,"height":1666,
"layer":[
{"data":{"name":"d"},"transform":[{"window":[{"op":"row_number","as":"i"}]}],"mark":{"type":"line","filled":true,"clip":false},"encoding":{
"x":{"field":"x","type":"quantitative","axis":null,"scale":{"domain":[-347.7,1506.3],"nice":false,"zero":false}},
"y":{"field":"y","type":"quantitative","axis":null,"scale":{"domain":[-34,1632],"nice":false,"zero":false,"reverse":true}},
"order":{"field":"i","type":"quantitative"},
"color":{"field":"s","type":"nominal","legend":null,"scale":{"domain":["Bg","G1","T1","B1","N1","L1","O1","G2","T2","B2","N2","g1","t1","b1","n1","l1","o1","g2","t2","b2","n2"],"range":["#00AC00","#00AE74","#00ACAC","#0078AC","#0000AC","#59AC00","#ACAC00","#00AE74","#00ACAC","#0078AC","#0000AC","#59AC00","#ACAC00","#BE7800","#C80000","#00AE74","#00ACAC","#59AC00","#ACAC00","#BE7800","#C80000"]}}}},
{"data":{"name":"barsD"},"mark":{"type":"rect","stroke":"#222222","strokeWidth":1.5},"encoding":{"x":{"field":"x","type":"quantitative"},"x2":{"field":"x2"},"y":{"field":"y","type":"quantitative"},"y2":{"field":"y2"},
"fill":{"field":"n","type":"nominal","legend":null,"scale":{"domain":["cap","c1","c2","c3","c4","c5","c6","c7","c8","c9"],"range":["#000000","#FF0000","#FFB000","#FFFF00","#88FF00","#00FF00","#00FFA8","#00FFFF","#00A8FF","#0000FF"]}}}},
{"data":{"name":"labelsD"},"transform":[{"filter":"datum.b==0"}],"mark":{"type":"text","align":"left","baseline":"middle","fontSize":26,"font":"Liberation Sans","color":"#222222"},"encoding":{"x":{"field":"x","type":"quantitative"},"y":{"field":"y","type":"quantitative"},"text":{"field":"t"}}},
{"data":{"name":"labelsD"},"transform":[{"filter":"datum.b==1"}],"mark":{"type":"text","align":"left","baseline":"middle","fontSize":28,"font":"Liberation Sans","fontWeight":"bold","color":"#111111"},"encoding":{"x":{"field":"x","type":"quantitative"},"y":{"field":"y","type":"quantitative"},"text":{"field":"t"}}},
{"data":{"name":"capD"},"transform":[{"filter":"datum.b==0"}],"mark":{"type":"text","align":"center","baseline":"alphabetic","fontSize":76,"font":"Liberation Serif","color":"#000000"},"encoding":{"x":{"field":"x","type":"quantitative"},"y":{"field":"y","type":"quantitative"},"text":{"field":"t"}}},
{"data":{"name":"capD"},"transform":[{"filter":"datum.b==1"}],"mark":{"type":"text","align":"center","baseline":"alphabetic","fontSize":76,"font":"Liberation Serif","fontWeight":"bold","color":"#000000"},"encoding":{"x":{"field":"x","type":"quantitative"},"y":{"field":"y","type":"quantitative"},"text":{"field":"t"}}}
]}
],
"resolve":{"scale":{"color":"independent","fill":"independent"}}
}
